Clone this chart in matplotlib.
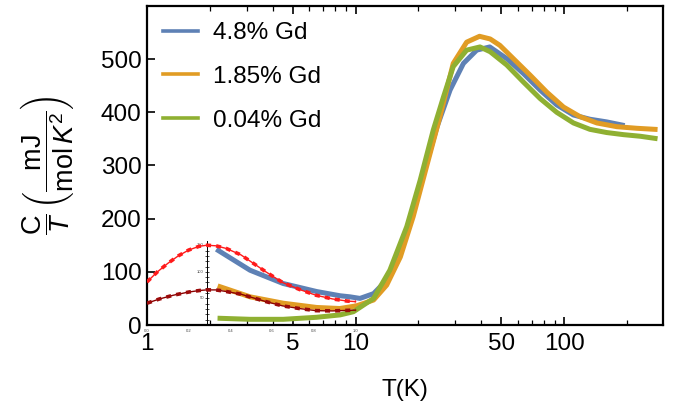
import matplotlib
matplotlib.use("Agg")
import matplotlib.pyplot as plt
from matplotlib.lines import Line2D
from matplotlib.ticker import FixedLocator, NullFormatter, FixedFormatter
import numpy as np

plt.rcParams['font.family'] = ['Liberation Sans', 'DejaVu Sans']
plt.rcParams['mathtext.fontset'] = 'custom'
plt.rcParams['mathtext.rm'] = 'Liberation Sans'
plt.rcParams['mathtext.it'] = 'Liberation Sans:italic'

# ---- data ----
T_blue = [2.2, 3.12, 4.5, 6.5, 8.43, 9.4, 10.5, 12.2, 13.6, 15.7, 18.2, 21.2, 24.6, 28.4, 32.9, 38.1, 44.0, 53.1, 63.8, 76.7, 92.2, 110.9, 133, 160, 190]
C_blue = [140, 103, 78, 63, 55, 53, 50, 59, 78, 122, 191, 285, 373, 442, 492, 517, 523, 501, 473, 442, 414, 395, 387, 382, 376]

T_orange = [2.24, 3.12, 4.5, 6.5, 8.4, 10.1, 12.2, 14.1, 16.4, 18.9, 21.9, 25.4, 29.4, 34.1, 39.3, 44.2, 49.2, 57.1, 68.7, 82.6, 99.3, 119, 143.6, 179, 223, 273]
C_orange = [72, 53, 41, 33, 31, 36, 47, 75, 128, 204, 298, 392, 492, 532, 543, 538, 526, 501, 470, 438, 410, 392, 380, 373, 370, 368]

T_green = [2.24, 3.12, 4.5, 6.5, 8.43, 9.77, 12.2, 14.6, 17.6, 20.4, 23.6, 26.4, 29.4, 34.1, 39.5, 44.2, 53.1, 63.8, 76.7, 92.2, 110.9, 133, 160, 193, 232, 273]
C_green = [12.6, 10.7, 10.7, 14.5, 19, 25, 50, 103, 185, 272, 367, 429, 486, 517, 523, 514, 489, 457, 426, 400, 380, 368, 362, 358, 355, 351]

# inset fit curves (inset x is linear 0..1, shown over log10 T)
t_red = [0.0, 0.05, 0.1, 0.15, 0.2, 0.25, 0.286, 0.33, 0.38, 0.45, 0.51, 0.57, 0.65, 0.73, 0.81, 0.89, 0.96, 1.0]
C_red = [81, 100, 116, 130, 141, 148, 150, 149, 144, 132, 116, 100, 80, 67, 56, 49, 45, 44]
t_dred = [0.0, 0.06, 0.126, 0.2, 0.254, 0.286, 0.33, 0.38, 0.45, 0.51, 0.57, 0.65, 0.73, 0.81, 0.89, 0.96, 1.0]
C_dred = [41, 49, 56, 62, 65, 66, 66, 63, 58, 51, 44, 36, 31, 27, 26.5, 27.5, 28]

labels = ["4.8% Gd", "1.85% Gd", "0.04% Gd"]
colors = ["#5E81B5", "#E19C24", "#8FB032"]

inset_xticks = [0.0, 0.2, 0.4, 0.6, 0.8, 1.0]
inset_yticks = [50, 100, 150]
inset_axis_t = 0.286

# ---- figure ----
fig = plt.figure(figsize=(6.75, 4.09), dpi=100)
ax = fig.add_axes([147/675, 1-325/409, 516/675, 319/409])

lw = 3.6
ax.plot(T_blue, C_blue, color=colors[0], lw=lw, solid_joinstyle='round')
ax.plot(T_orange, C_orange, color=colors[1], lw=lw, solid_joinstyle='round')
ax.plot(T_green, C_green, color=colors[2], lw=lw, solid_joinstyle='round')

Tr = 10**np.array(t_red)
Td = 10**np.array(t_dred)
ax.plot(Tr, C_red, color='#FF1A1A', lw=1.0, zorder=4)
ax.plot(Tr, C_red, color='#FF1A1A', lw=2.6, dashes=(1.4, 1.4), zorder=4)
ax.plot(Td, C_dred, color='#8B0000', lw=1.0, zorder=4)
ax.plot(Td, C_dred, color='#9B0A0A', lw=2.6, dashes=(1.4, 1.4), zorder=4)

# inset axis
xa = 10**inset_axis_t
ax.plot([xa, xa], [0, 158], color='black', lw=0.7, zorder=3)
ax.plot([xa]*15, np.arange(10, 160, 10), ls='none', marker='_', ms=2.5, mew=0.5, color='black', zorder=3)
for v in inset_yticks:
    ax.text(xa*0.97, v, str(v), fontsize=3, ha='right', va='center', color='#444444')
for v in inset_xticks:
    ax.text(10**v, -0.012, f"{v:.1f}", fontsize=3, ha='center', va='top', color='#444444',
            transform=ax.get_xaxis_transform())

ax.set_xscale('log')
ax.set_xlim(1, 298)
ax.set_ylim(0, 600)

ax.xaxis.set_major_locator(FixedLocator([1, 5, 10, 50, 100]))
ax.xaxis.set_major_formatter(FixedFormatter(['1', '5', '10', '50', '100']))
ax.xaxis.set_minor_locator(FixedLocator([2, 3, 4, 6, 7, 8, 9, 20, 30, 40, 60, 70, 80, 90, 200]))
ax.xaxis.set_minor_formatter(NullFormatter())
ax.set_yticks([0, 100, 200, 300, 400, 500])

ax.tick_params(axis='both', which='major', direction='in', labelsize=17.5, length=6, width=1.2, color='black')
ax.tick_params(axis='both', which='minor', direction='in', length=3.5, width=0.9)
ax.tick_params(axis='x', which='both', top=True, pad=6)
ax.tick_params(axis='y', which='both', right=False, pad=4)
for s in ax.spines.values():
    s.set_linewidth(1.6)

ax.set_xlabel('T(K)', fontsize=17.5, va='center')
ax.xaxis.set_label_coords(0.5, -0.205)
ax.set_ylabel(r'$\dfrac{\mathrm{C}}{T}\,\left(\dfrac{\mathrm{mJ}}{\mathrm{mol}\,K^{2}}\right)$', fontsize=19.5, va='center')
ax.yaxis.set_label_coords(-0.193, 0.5)

handles = [Line2D([], [], color=c, lw=2.6) for c in colors]
ax.legend(handles, labels, loc='upper left', bbox_to_anchor=((163-147)/516, (325-22)/319),
          frameon=False, fontsize=17.5, handlelength=1.45, handletextpad=0.6,
          labelspacing=0.9, borderpad=0, borderaxespad=0)

fig.savefig('out.png', dpi=100)
